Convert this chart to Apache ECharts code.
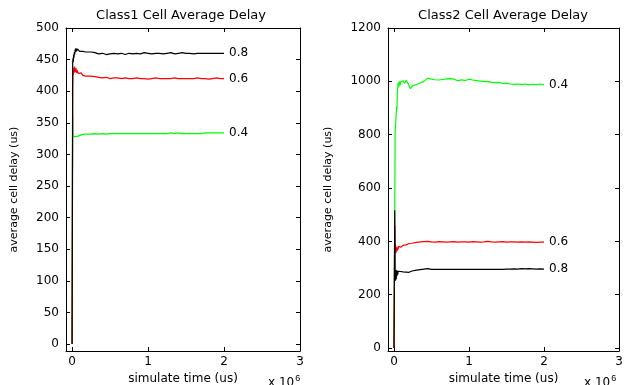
<!DOCTYPE html>
<html>
<head>
<meta charset="utf-8">
<script src="https://cdn.jsdelivr.net/npm/echarts@6/dist/echarts.min.js"></script>
<style>
  html, body { margin: 0; padding: 0; background: #fff; }
  #chart { width: 624px; height: 385px; }
</style>
</head>
<body>
<div id="chart"></div>
<script>
// simulate time, x 10^6 us
const t1 = [0, 0.004, 0.008, 0.012, 0.016, 0.02, 0.025, 0.03, 0.035, 0.04, 0.045, 0.05, 0.06, 0.07, 0.08, 0.09, 0.1,
  0.12, 0.14, 0.16, 0.18, 0.2,
  0.25, 0.3, 0.35, 0.4, 0.45, 0.5, 0.55, 0.6, 0.65, 0.7, 0.75, 0.8, 0.85, 0.9, 0.95, 1.0, 1.05, 1.1,
  1.15, 1.2, 1.25, 1.3, 1.35, 1.4, 1.45, 1.5, 1.55, 1.6, 1.65, 1.7, 1.75, 1.8, 1.85, 1.9, 1.95, 2.0]
const class1_08 = [0, 230, 445, 452, 446, 458, 453, 462, 458, 466, 462, 468, 463, 467, 464, 466, 463,
  465, 463, 465, 462, 464,
  462, 461, 459, 460, 458, 459, 460, 459, 460, 458, 460, 459, 460, 459, 461, 460, 459, 460,
  460, 459, 460, 461, 459, 460, 461, 460, 460, 459, 460, 460, 460, 460, 460, 460, 460, 460]
const class1_06 = [0, 170, 405, 432, 426, 436, 429, 439, 431, 435, 430, 437, 429, 433, 428, 431, 427,
  429, 425, 427, 424, 426,
  424, 423, 422, 421, 422, 420, 421, 421, 420, 421, 420, 420, 421, 420, 420, 419, 420, 421,
  420, 420, 420, 420, 421, 420, 420, 420, 420, 420, 421, 420, 420, 419, 420, 421, 420, 420]
const class1_04 = [0, 200, 362, 335, 328, 327, 325, 328, 326, 327, 328, 329, 328, 330, 329, 331, 330,
  331, 330, 332, 331, 332,
  332, 333, 332, 333, 332, 333, 333, 333, 333, 333, 333, 333, 333, 333, 333, 333, 333, 333,
  333, 333, 333, 334, 333, 334, 333, 333, 333, 333, 333, 333, 334, 334, 334, 334, 334, 334]

const t2 = [0, 0.01, 0.015, 0.02, 0.025, 0.03, 0.035, 0.04, 0.045, 0.05, 0.055, 0.06, 0.07, 0.08, 0.09, 0.1,
  0.12, 0.14, 0.16, 0.18, 0.2, 0.22, 0.24,
  0.3, 0.35, 0.4, 0.45, 0.5, 0.55, 0.6, 0.65, 0.7, 0.75, 0.8, 0.85, 0.9, 0.95, 1.0, 1.05, 1.1, 1.15,
  1.2, 1.25, 1.3, 1.35, 1.4, 1.45, 1.5, 1.55, 1.6, 1.65, 1.7, 1.75, 1.8, 1.85, 1.9, 1.95, 2.0]
const class2_04 = [0, 520, 811, 808, 812, 880, 905, 895, 962, 975, 995, 978, 1000, 985, 998, 992,
  1002, 993, 1004, 996, 1001, 972, 982,
  988, 994, 1000, 1012, 1008, 1006, 1005, 1007, 1009, 1010, 1008, 1002, 1006, 1003, 1008, 1005, 1003, 1001,
  999, 1000, 996, 995, 996, 992, 993, 990, 989, 990, 988, 990, 987, 989, 988, 990, 987]
const class2_06 = [0, 460, 372, 388, 356, 380, 362, 374, 366, 378, 370, 382, 376, 381, 378, 383,
  385, 388, 387, 391, 392, 394, 393,
  396, 398, 399, 400, 398, 397, 399, 398, 397, 398, 399, 397, 398, 398, 397, 399, 398, 397,
  398, 400, 398, 397, 398, 399, 397, 398, 398, 397, 398, 397, 398, 397, 396, 397, 397]
const class2_08 = [0, 517, 300, 252, 294, 258, 292, 270, 290, 276, 288, 282, 290, 284, 287, 283,
  286, 282, 285, 281, 284, 287, 289,
  292, 294, 296, 298, 295, 295, 295, 295, 295, 295, 295, 295, 295, 295, 295, 295, 295, 295,
  295, 295, 295, 295, 295, 295, 296, 296, 297, 296, 298, 297, 298, 297, 296, 297, 296]

const xTicks = [0, 1, 2, 3]
const yTicks1 = [0, 50, 100, 150, 200, 250, 300, 350, 400, 450, 500]
const yTicks2 = [0, 200, 400, 600, 800, 1000, 1200]

const font = 'DejaVu Sans'
let chart = echarts.init(document.getElementById('chart'))

function pts(t, v) {
    return t.map((x, i) => [x, v[i]])
}

function xAxis(grid, pos, labels) {
    return {
        type: 'value', gridIndex: grid, position: pos, min: -0.08, max: 3,
        axisLine: { show: true, onZero: false, lineStyle: { color: '#000', width: 1 } },
        axisTick: { show: true, inside: true, length: 4, customValues: xTicks, lineStyle: { color: '#000' } },
        axisLabel: { show: labels, customValues: xTicks, formatter: v => String(v), color: '#000', fontFamily: font, fontSize: 12, margin: 5 },
        splitLine: { show: false },
        name: labels ? 'simulate time (us)' : '',
        nameLocation: 'middle', nameGap: 20,
        nameTextStyle: { color: '#000', fontFamily: font, fontSize: 12 }
    }
}

function yAxis(grid, pos, labels, max, ticks, gap) {
    return {
        type: 'value', gridIndex: grid, position: pos, min: -11, max: max,
        axisLine: { show: true, onZero: false, lineStyle: { color: '#000', width: 1 } },
        axisTick: { show: true, inside: true, length: 4, customValues: ticks, lineStyle: { color: '#000' } },
        axisLabel: { show: labels, customValues: ticks, formatter: v => String(v), color: '#000', fontFamily: font, fontSize: 12, margin: 7 },
        splitLine: { show: false },
        name: labels ? 'average cell delay (us)' : '',
        nameLocation: 'middle', nameGap: gap,
        nameTextStyle: { color: '#000', fontFamily: font, fontSize: 11 }
    }
}

function line(name, xi, data, color) {
    return {
        type: 'line', xAxisIndex: xi, yAxisIndex: xi, data: data,
        showSymbol: false, symbol: 'none', animation: false,
        lineStyle: { color: color, width: 1.2 },
        itemStyle: { color: color },
        endLabel: { show: true, formatter: name, color: '#000', fontFamily: font, fontSize: 12, distance: 5 }
    }
}

chart.setOption({
    backgroundColor: '#fff',
    animation: false,
    grid: [
        { left: 66, top: 28, width: 234, height: 323, outerBoundsMode: 'none' },
        { left: 388, top: 28, width: 231, height: 323, outerBoundsMode: 'none' }
    ],
    xAxis: [xAxis(0, 'bottom', true), xAxis(1, 'bottom', true), xAxis(0, 'top', false), xAxis(1, 'top', false)],
    yAxis: [yAxis(0, 'left', true, 500, yTicks1, 46), yAxis(1, 'left', true, 1200, yTicks2, 54),
        yAxis(0, 'right', false, 500, yTicks1, 0), yAxis(1, 'right', false, 1200, yTicks2, 0)],
    series: [
        line('0.4', 0, pts(t1, class1_04), '#00ff00'),
        line('0.6', 0, pts(t1, class1_06), '#ff0000'),
        line('0.8', 0, pts(t1, class1_08), '#000000'),
        line('0.4', 1, pts(t2, class2_04), '#00ff00'),
        line('0.6', 1, pts(t2, class2_06), '#ff0000'),
        line('0.8', 1, pts(t2, class2_08), '#000000')
    ],
    graphic: [
        { type: 'text', x: 181, y: 16, style: { text: 'Class1 Cell Average Delay', fill: '#000', font: '13px "DejaVu Sans"', align: 'center', verticalAlign: 'middle' } },
        { type: 'text', x: 503, y: 16, style: { text: 'Class2 Cell Average Delay', fill: '#000', font: '13px "DejaVu Sans"', align: 'center', verticalAlign: 'middle' } },
        { type: 'text', x: 268, y: 374, style: { text: 'x 10{s|6}', fill: '#000', font: '12px "DejaVu Sans"', rich: { s: { fontSize: 9, verticalAlign: 'top', padding: [0, 0, 8, 1] } } } },
        { type: 'text', x: 584, y: 374, style: { text: 'x 10{s|6}', fill: '#000', font: '12px "DejaVu Sans"', rich: { s: { fontSize: 9, verticalAlign: 'top', padding: [0, 0, 8, 1] } } } }
    ]
})
</script>
</body>
</html>
